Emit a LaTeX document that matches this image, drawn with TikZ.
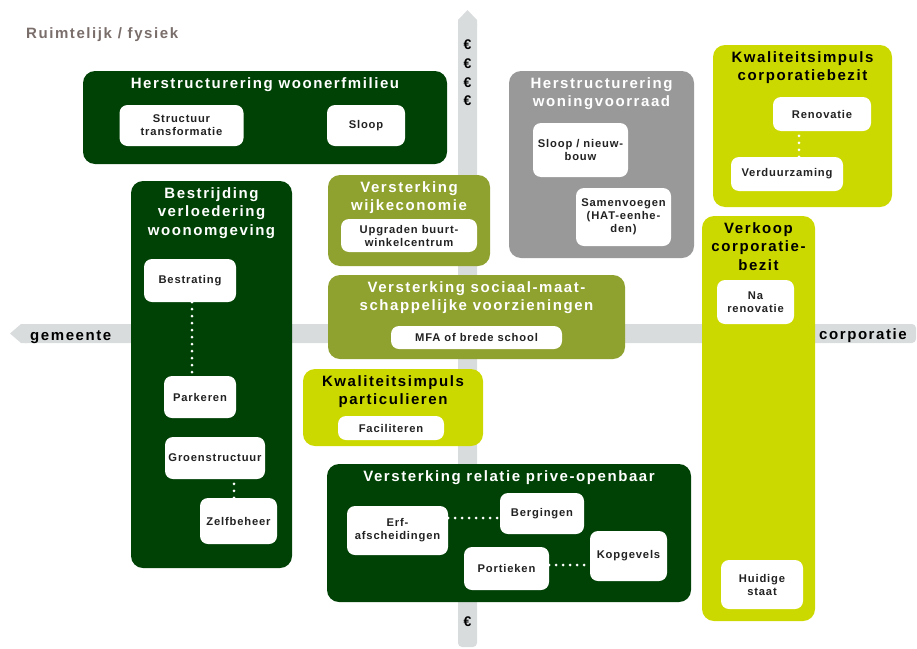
\documentclass[tikz,border=0pt]{standalone}
\usepackage{fontspec}
\setmainfont{Liberation Sans}[LetterSpace=10.5]
\usepackage{tikz}
\usetikzlibrary{positioning}

\definecolor{donkergroen}{RGB}{0,66,6}
\definecolor{olijf}{RGB}{143,161,46}
\definecolor{limoen}{RGB}{204,217,0}
\definecolor{vlakgrijs}{RGB}{153,153,153}
\definecolor{asgrijs}{RGB}{217,220,221}
\definecolor{taupe}{RGB}{122,110,107}
\definecolor{tekstgrijs}{RGB}{34,34,34}

\begin{document}
\begin{tikzpicture}[x=1pt, y=-1pt,
    vlak/.style={rectangle, rounded corners=12pt, inner sep=0pt},
    kop/.style={font=\fontsize{15}{18.5}\bfseries, align=center, inner sep=0pt, text=white},
    blok/.style={rectangle, rounded corners=8pt, fill=white, inner sep=0pt, align=center,
        font=\fontsize{11.2}{13}\bfseries\addfontfeature{LetterSpace=7.5}, text=tekstgrijs},
    as/.style={font=\fontsize{15}{18.5}\bfseries, inner sep=0pt},
    stip/.style={white, line width=3pt, line cap=round, dash pattern=on 0pt off 7pt}]
    \useasboundingbox (0,0) rectangle (917,648);

    % assen
    \fill[asgrijs, rounded corners=4pt] (21,324) rectangle (916,343);
    \fill[asgrijs] (10,333.5) -- (21,324) -- (27,324) -- (27,343) -- (21,343) -- cycle;
    \fill[asgrijs, rounded corners=4pt] (458,20) rectangle (477,647);
    \fill[asgrijs] (467.5,10) -- (477,20) -- (477,26) -- (458,26) -- (458,20) -- cycle;

    \node[as, text=taupe, anchor=base west] (ruimtelijk) at (26,38) {Ruimtelijk / fysiek};
    \node[as, anchor=base west] (gemeente) at (30,340) {gemeente};
    \node[as, anchor=base west] (corporatie) at (819,339.5) {corporatie};
    \node[as, font=\fontsize{14}{18.7}\bfseries, align=center] (euros) at (467.5,73) {€\\€\\€\\€};
    \node[as, font=\fontsize{14}{18.7}\bfseries] (euro) at (467.5,622) {€};

    % herstructurering woonerfmilieu
    \node[vlak, fill=donkergroen, minimum width=364pt, minimum height=93pt] (woonerf) at (265,117.5) {};
    \node[kop, below=6.5pt of woonerf.north] (woonerfkop) {Herstructurering woonerfmilieu};
    \node[blok, minimum width=124pt, minimum height=41pt] (structuur) at (181.5,125.5) {Structuur\\transformatie};
    \node[blok, minimum width=78pt, minimum height=41pt] (sloop) at (366,125.5) {Sloop};

    % bestrijding verloedering
    \node[vlak, fill=donkergroen, minimum width=161pt, minimum height=387pt] (verloedering) at (211.5,374.5) {};
    \node[kop, below=6.5pt of verloedering.north] (verloederingkop) {Bestrijding\\verloedering\\woonomgeving};
    \node[blok, minimum width=92pt, minimum height=43pt] (bestrating) at (190,280.5) {Bestrating};
    \node[blok, minimum width=72pt, minimum height=42pt] (parkeren) at (200,397) {Parkeren};
    \node[blok, minimum width=100pt, minimum height=42pt] (groen) at (215,458) {Groenstructuur};
    \node[blok, minimum width=77pt, minimum height=46pt] (zelfbeheer) at (238.5,521) {Zelfbeheer};

    % versterking wijkeconomie
    \node[vlak, fill=olijf, minimum width=162pt, minimum height=91pt] (wijkeconomie) at (409,220.5) {};
    \node[kop, below=6.5pt of wijkeconomie.north] (wijkeconomiekop) {Versterking\\wijkeconomie};
    \node[blok, minimum width=136pt, minimum height=33pt] (upgraden) at (409,235.5) {Upgraden buurt-\\winkelcentrum};

    % herstructurering woningvoorraad
    \node[vlak, fill=vlakgrijs, minimum width=185pt, minimum height=187pt] (woningvoorraad) at (601.5,164.5) {};
    \node[kop, below=6.5pt of woningvoorraad.north] (woningvoorraadkop) {Herstructurering\\woningvoorraad};
    \node[blok, minimum width=95pt, minimum height=54pt] (nieuwbouw) at (580.5,150) {Sloop / nieuw-\\bouw};
    \node[blok, minimum width=95pt, minimum height=58pt] (samenvoegen) at (623.5,217) {Samenvoegen\\(HAT-eenhe-\\den)};

    % kwaliteitsimpuls corporatiebezit
    \node[vlak, fill=limoen, minimum width=179pt, minimum height=162pt] (corpbezit) at (802.5,126) {};
    \node[kop, text=black, below=6.5pt of corpbezit.north] (corpbezitkop) {Kwaliteitsimpuls\\corporatiebezit};
    \node[blok, minimum width=98pt, minimum height=34pt] (renovatie) at (822,114) {Renovatie};
    \node[blok, minimum width=112pt, minimum height=34pt] (verduurzaming) at (787,174) {Verduurzaming};

    % verkoop corporatiebezit
    \node[vlak, fill=limoen, minimum width=113pt, minimum height=405pt] (verkoop) at (758.5,418.5) {};
    \node[kop, text=black, below=6.5pt of verkoop.north] (verkoopkop) {Verkoop\\corporatie-\\bezit};
    \node[blok, minimum width=77pt, minimum height=44pt] (narenovatie) at (755.5,302) {Na\\renovatie};
    \node[blok, minimum width=82pt, minimum height=49pt] (huidig) at (762,584.5) {Huidige\\staat};

    % sociaal-maatschappelijke voorzieningen
    \node[vlak, fill=olijf, minimum width=297pt, minimum height=84pt] (voorzieningen) at (476.5,317) {};
    \node[kop, below=6.5pt of voorzieningen.north] (voorzieningenkop) {Versterking sociaal-maat-\\schappelijke voorzieningen};
    \node[blok, minimum width=171pt, minimum height=23pt] (mfa) at (476.5,337.5) {MFA of brede school};

    % kwaliteitsimpuls particulieren
    \node[vlak, fill=limoen, minimum width=180pt, minimum height=77pt] (particulieren) at (393,407.5) {};
    \node[kop, text=black, below=6.5pt of particulieren.north] (particulierenkop) {Kwaliteitsimpuls\\particulieren};
    \node[blok, minimum width=106pt, minimum height=24pt] (faciliteren) at (391,428) {Faciliteren};

    % relatie prive-openbaar
    \node[vlak, fill=donkergroen, minimum width=364pt, minimum height=138pt] (relatie) at (509,533) {};
    \node[kop, below=6.5pt of relatie.north] (relatiekop) {Versterking relatie prive-openbaar};
    \node[blok, minimum width=101pt, minimum height=49pt] (erf) at (397.5,530.5) {Erf-\\afscheidingen};
    \node[blok, minimum width=84pt, minimum height=41pt] (bergingen) at (542,513.5) {Bergingen};
    \node[blok, minimum width=85pt, minimum height=43pt] (portieken) at (506.5,568.5) {Portieken};
    \node[blok, minimum width=77pt, minimum height=50pt] (kopgevels) at (628.5,556) {Kopgevels};

    % stippellijnen
    \draw[stip] ([xshift=2pt]bestrating.south) -- ([xshift=2pt]bestrating.south |- parkeren.north);
    \draw[stip] ([xshift=-4.5pt]zelfbeheer.north) -- ([xshift=-4.5pt]zelfbeheer.north |- groen.south);
    \draw[stip] ([xshift=12pt]verduurzaming.north) -- ([xshift=12pt]verduurzaming.north |- renovatie.south);
    \draw[stip] ([yshift=12.5pt]erf.east) -- ([yshift=12.5pt]erf.east -| bergingen.west);
    \draw[stip] ([yshift=3.5pt]portieken.east) -- ([yshift=3.5pt]portieken.east -| kopgevels.west);
\end{tikzpicture}
\end{document}
